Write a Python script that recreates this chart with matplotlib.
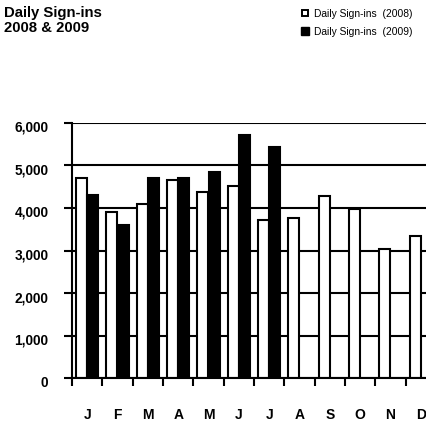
import matplotlib
matplotlib.use("Agg")
import matplotlib.pyplot as plt
from matplotlib.lines import Line2D
from matplotlib.ticker import FuncFormatter
from matplotlib.transforms import ScaledTranslation
import numpy as np

plt.rcParams['font.family'] = ['Liberation Sans', 'DejaVu Sans']

months = ['J', 'F', 'M', 'A', 'M', 'J', 'J', 'A', 'S', 'O', 'N', 'D']
signins_2008 = [4700, 3900, 4100, 4650, 4380, 4520, 3720, 3770, 4280, 3980, 3030, 3340]
signins_2009 = [4300, 3600, 4700, 4700, 4850, 5700, 5430]
label_2008 = 'Daily Sign-ins  (2008)'
label_2009 = 'Daily Sign-ins  (2009)'
title = 'Daily Sign-ins\n2008 & 2009'
yticks = [0, 1000, 2000, 3000, 4000, 5000, 6000]

W, H = 427, 424
fig = plt.figure(figsize=(W / 100, H / 100), dpi=100)
ax = fig.add_axes([72 / W, 1 - 378.3 / H, (436 - 72) / W, (378.3 - 122.7) / H])

x08 = np.arange(len(signins_2008))
x09 = np.arange(len(signins_2009))
bw = 0.36
ax.bar(x08 - 0.19, signins_2008, width=bw, facecolor='white', edgecolor='black',
       linewidth=1.5, zorder=3)
ax.bar(x09 + 0.19, signins_2009, width=bw, facecolor='black', edgecolor='black',
       linewidth=1.5, zorder=4)

ax.set_xlim(-0.5, len(months) - 0.5)
ax.set_ylim(0, 6000)
ax.set_yticks(yticks)
ax.yaxis.set_major_formatter(FuncFormatter(lambda v, p: f'{int(v):,}'))
ax.set_xticks(np.arange(len(months) + 1) - 0.5)
ax.set_xticklabels([])
ax.set_xticks(np.arange(len(months)), minor=True)
ax.set_xticklabels(months, minor=True)
ax.tick_params(axis='x', which='minor', length=0, pad=21.5, labelsize=10)
ax.tick_params(axis='x', which='major', length=6, width=1.5, direction='out')
ax.tick_params(axis='y', length=6, width=1.5, direction='out', pad=11, labelsize=9.8)
shift = ScaledTranslation(0, -2.5 / 72, fig.dpi_scale_trans)
for lbl in ax.get_yticklabels():
    lbl.set_fontweight('bold')
    lbl.set_transform(lbl.get_transform() + shift)
for lbl in ax.get_xticklabels(minor=True):
    lbl.set_fontweight('bold')

ax.grid(axis='y', color='black', linewidth=1.5, zorder=1)
ax.set_axisbelow(True)
for s in ['top', 'right']:
    ax.spines[s].set_visible(False)
for s in ['left', 'bottom']:
    ax.spines[s].set_linewidth(1.5)
    ax.spines[s].set_zorder(5)

fig.text(4 / W, 1 - 6 / H, title, ha='left', va='top', fontsize=10.7,
         fontweight='bold', linespacing=1.12)

handles = [
    Line2D([], [], linestyle='none', marker='s', markersize=5,
           markerfacecolor='white', markeredgecolor='black', markeredgewidth=1.4),
    Line2D([], [], linestyle='none', marker='s', markersize=5.5,
           markerfacecolor='black', markeredgecolor='black'),
]
fig.legend(handles, [label_2008, label_2009], loc='upper left',
           bbox_to_anchor=(301 / W, 1 - 9 / H), frameon=False, fontsize=7.4,
           handlelength=0.8, handletextpad=0.5, borderpad=0, borderaxespad=0,
           labelspacing=0.75)

fig.savefig('out.png', dpi=100)
